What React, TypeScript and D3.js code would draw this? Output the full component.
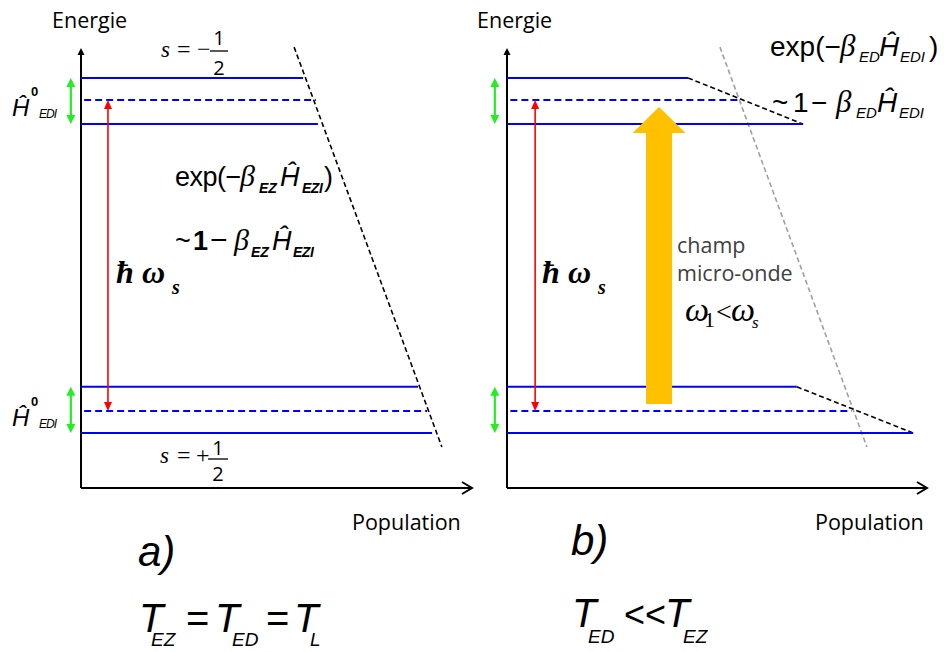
import React from 'react';
import * as d3 from 'd3';

// energies of the three lines of each doublet (0 = population axis, 100 = top of energy axis)
const upperLevels = [93.2, 88.2, 82.7];
const lowerLevels = [23.0, 17.5, 12.5];
const levelDashed = [false, true, false];

// population reached by each line (0 = energy axis, 100 = end of population axis)
const popUpperA = [56.8, 60.1, 60.6];
const popLowerA = [86.2, 88.5, 89.8];
const popUpperB = [43.1, 55.2, 70.5];
const popLowerB = [69.0, 82.1, 96.7];

// Boltzmann envelopes, [population, energy]
const boltzA: [number, number][] = [[54.5, 100.2], [92.3, 9.3]];
const boltzGrayB: [number, number][] = [[50.7, 100.2], [85.7, 9.3]];
const boltzUpperB: [number, number][] = [[43.1, 93.2], [70.5, 82.7]];
const boltzLowerB: [number, number][] = [[69.0, 23.0], [96.7, 12.5]];

const transitionPop = [6.9, 6.7]; // red arrow hbar omega_s
const splitPop = [-2.6, -2.9]; // green arrows H0_EDI

// micro-wave pump arrow (panel b)
const pumpPop = 36.2;
const pumpShaftHalf = 3.1;
const pumpHeadHalf = 6.3;
const pumpEnergy = [19.1, 80.7, 86.6]; // base, head base, tip

const SANS = 'Liberation Sans';
const SERIF = 'Liberation Serif';
const OPEN = 'Open Sans';

const yScale = d3.scaleLinear().domain([0, 100]).range([488, 48]);

type Opts = { ff?: string; it?: boolean; b?: boolean; fill?: string; anchor?: string; ls?: number };
const T = (x: number, y: number, s: string, size: number, o: Opts = {}) => (
  <text
    x={x}
    y={y}
    fontSize={size}
    fontFamily={o.ff ?? SANS}
    fontStyle={o.it ? 'italic' : 'normal'}
    fontWeight={o.b ? 'bold' : 'normal'}
    fill={o.fill ?? '#000'}
    textAnchor={o.anchor ?? 'start'}
    letterSpacing={o.ls ?? 0}
  >
    {s}
  </text>
);

function Panel({ x0, x1, upper, lower, env, idx }: any) {
  const x = d3.scaleLinear().domain([0, 100]).range([x0, x1]);
  const y = yScale;
  const line = d3.line<[number, number]>().x(d => x(d[0])).y(d => y(d[1]));

  const levels = [
    ...upperLevels.map((e, i) => ({ e, p: upper[i], dashed: levelDashed[i] })),
    ...lowerLevels.map((e, i) => ({ e, p: lower[i], dashed: levelDashed[i] })),
  ];

  const rx = x(transitionPop[idx]);
  const gx = x(splitPop[idx]);

  return (
    <g>
      {/* axes */}
      <line x1={x(0)} x2={x(0)} y1={y(0)} y2={y(100) + 4} stroke="#000" strokeWidth={2} />
      <path d={`M${x(0)},${y(100)} l-3.5,7 l7,0 z`} fill="#000" />
      <line x1={x(0)} x2={x(100)} y1={y(0)} y2={y(0)} stroke="#000" strokeWidth={2} />
      <path d={`M${x(100) - 10},${y(0) - 6} L${x(100)},${y(0)} L${x(100) - 10},${y(0) + 6}`} fill="none" stroke="#000" strokeWidth={2} />

      {/* envelopes */}
      {env.map((seg: any, i: number) => (
        <path key={i} d={line(seg.pts) || ''} fill="none" stroke={seg.color} strokeWidth={1.6} strokeDasharray="5,3" />
      ))}

      {/* levels */}
      {levels.map((l, i) => (
        <line
          key={i}
          x1={l.dashed ? x(0.8) : x(0)}
          x2={x(l.p)}
          y1={y(l.e)}
          y2={y(l.e)}
          stroke="#0000ff"
          strokeWidth={2}
          strokeDasharray={l.dashed ? '7,4' : undefined}
        />
      ))}

      {/* red transition arrow */}
      <line x1={rx} x2={rx} y1={y(upperLevels[1]) + 6} y2={y(lowerLevels[1]) - 6} stroke="#ff0000" strokeWidth={1.6} />
      <path d={`M${rx},${y(upperLevels[1])} l-4,9 l8,0 z`} fill="#ff0000" />
      <path d={`M${rx},${y(lowerLevels[1])} l-4,-9 l8,0 z`} fill="#ff0000" />

      {/* green splitting arrows */}
      {[upperLevels, lowerLevels].map((lv, i) => (
        <g key={i}>
          <line x1={gx} x2={gx} y1={y(lv[0]) + 6} y2={y(lv[2]) - 6} stroke="#22ee22" strokeWidth={2.2} />
          <path d={`M${gx},${y(lv[0])} l-4.5,9 l9,0 z`} fill="#22ee22" />
          <path d={`M${gx},${y(lv[2])} l-4.5,-9 l9,0 z`} fill="#22ee22" />
        </g>
      ))}
    </g>
  );
}

export default function App() {
  const xB = d3.scaleLinear().domain([0, 100]).range([507, 927]);
  const y = yScale;
  const cx = xB(pumpPop);
  const sh = xB(pumpShaftHalf) - xB(0);
  const hh = xB(pumpHeadHalf) - xB(0);
  const pump = `M${cx - sh},${y(pumpEnergy[0])} L${cx - sh},${y(pumpEnergy[1])} L${cx - hh},${y(pumpEnergy[1])} L${cx},${y(pumpEnergy[2])} L${cx + hh},${y(pumpEnergy[1])} L${cx + sh},${y(pumpEnergy[1])} L${cx + sh},${y(pumpEnergy[0])} Z`;

  return (
    <div style={{ position: 'absolute', left: 0, top: 0 }}>
      <svg width={944} height={652} style={{ display: 'block', background: '#fff' }}>
        <Panel x0={81} x1={472} upper={popUpperA} lower={popLowerA} idx={0}
          env={[{ pts: boltzA, color: '#000' }]} />
        <Panel x0={507} x1={927} upper={popUpperB} lower={popLowerB} idx={1}
          env={[
            { pts: boltzGrayB, color: '#a0a0a0' },
            { pts: boltzUpperB, color: '#000' },
            { pts: boltzLowerB, color: '#000' },
          ]} />

        {/* micro-wave pump */}
        <path d={pump} fill="#ffc000" />

        {/* axis titles */}
        {T(52, 28, 'Energie', 21.5, { ff: OPEN })}
        {T(477, 28, 'Energie', 21.5, { ff: OPEN })}
        {T(352, 530, 'Population', 21.5, { ff: OPEN })}
        {T(815, 530, 'Population', 21.5, { ff: OPEN })}

        {/* spin labels */}
        {T(161, 57, 's', 23, { ff: SERIF, it: true })}
        {T(177, 57, '=', 24, { ff: SERIF })}
        {T(197, 57, '−', 24, { ff: SERIF })}
        {T(219, 45, '1', 20, { ff: OPEN, anchor: 'middle' })}
        <line x1={210} x2={228} y1={51} y2={51} stroke="#000" strokeWidth={1.3} />
        {T(219, 75, '2', 20, { ff: OPEN, anchor: 'middle' })}

        {T(160, 463, 's', 23, { ff: SERIF, it: true })}
        {T(177, 463, '=', 24, { ff: SERIF })}
        {T(196, 463, '+', 24, { ff: SERIF })}
        {T(218, 455, '1', 20, { ff: OPEN, anchor: 'middle' })}
        <line x1={208} x2={228} y1={459} y2={459} stroke="#000" strokeWidth={1.3} />
        {T(218, 481, '2', 20, { ff: OPEN, anchor: 'middle' })}

        {/* H0_EDI labels */}
        {[0, 310].map(d => (
          <g key={d}>
            {T(12, 116 + d, 'Ĥ', 24, { it: true })}
            {T(31, 96 + d, '0', 13, { b: true })}
            {T(39, 118 + d, 'EDI', 12, { it: true, ls: -1 })}
          </g>
        ))}

        {/* hbar omega_s */}
        {T(116, 283, 'ħ', 32, { ff: SERIF, it: true, b: true })}
        {T(142, 283, 'ω', 32, { ff: SERIF, it: true, b: true })}
        {T(172, 294, 's', 20, { ff: SERIF, it: true, b: true })}
        {T(542, 283, 'ħ', 32, { ff: SERIF, it: true, b: true })}
        {T(568, 283, 'ω', 32, { ff: SERIF, it: true, b: true })}
        {T(598, 294, 's', 20, { ff: SERIF, it: true, b: true })}

        {/* panel a formulas */}
        {T(175, 186, 'exp(−', 27, { ls: -0.5 })}
        {T(240, 186, 'β', 30, { ff: SERIF, it: true })}
        {T(259, 193, 'EZ', 14, { it: true, b: true })}
        {T(280, 186, 'Ĥ', 27, { it: true })}
        {T(302, 193, 'EZI', 14, { it: true, b: true, ls: -0.5 })}
        {T(324, 186, ')', 27)}

        {T(175, 250, '~', 27)}
        {T(193, 250, '1', 27, { b: true })}
        {T(210, 250, '−', 30)}
        {T(234, 250, 'β', 30, { ff: SERIF, it: true })}
        {T(251, 257, 'EZ', 14, { it: true, b: true })}
        {T(272, 250, 'Ĥ', 27, { it: true })}
        {T(293, 257, 'EZI', 14, { it: true, b: true, ls: -0.5 })}

        {/* panel b formulas */}
        {T(770, 56, 'exp(−', 28)}
        {T(840, 56, 'β', 31, { ff: SERIF, it: true })}
        {T(859, 62, 'ED', 15, { it: true })}
        {T(879, 56, 'Ĥ', 28, { it: true })}
        {T(900, 62, 'EDI', 15, { it: true })}
        {T(929, 56, ')', 28)}

        {T(772, 112, '~', 28)}
        {T(793, 112, '1', 28)}
        {T(811, 112, '−', 28)}
        {T(836, 112, 'β', 31, { ff: SERIF, it: true })}
        {T(856, 118, 'ED', 15, { it: true })}
        {T(877, 112, 'Ĥ', 28, { it: true })}
        {T(899, 118, 'EDI', 15, { it: true })}

        {/* pump labels */}
        {T(677, 253, 'champ', 21.5, { ff: OPEN, fill: '#404040' })}
        {T(677, 281, 'micro-onde', 21.5, { ff: OPEN, fill: '#404040' })}
        {T(685, 321, 'ω', 34, { ff: SERIF, it: true })}
        {T(704, 327, '1', 22, { ff: SERIF })}
        {T(716, 321, '<', 28, { ff: SERIF })}
        {T(731, 321, 'ω', 34, { ff: SERIF, it: true })}
        {T(752, 328, 's', 17, { ff: SERIF, it: true })}

        {/* captions */}
        {T(138, 566, 'a)', 42, { it: true })}
        {T(139, 632, 'T', 40, { it: true })}
        {T(151, 646, 'EZ', 19, { it: true })}
        {T(186, 632, '=', 40)}
        {T(215, 632, 'T', 40, { it: true })}
        {T(232, 646, 'ED', 19, { it: true })}
        {T(266, 632, '=', 40)}
        {T(294, 632, 'T', 40, { it: true })}
        {T(310, 646, 'L', 19, { it: true })}

        {T(571, 555, 'b)', 42, { it: true })}
        {T(572, 627, 'T', 40, { it: true })}
        {T(588, 643, 'ED', 19, { it: true })}
        {T(624, 627, '<<', 36)}
        {T(665, 627, 'T', 40, { it: true })}
        {T(683, 643, 'EZ', 19, { it: true })}
      </svg>
    </div>
  );
}
